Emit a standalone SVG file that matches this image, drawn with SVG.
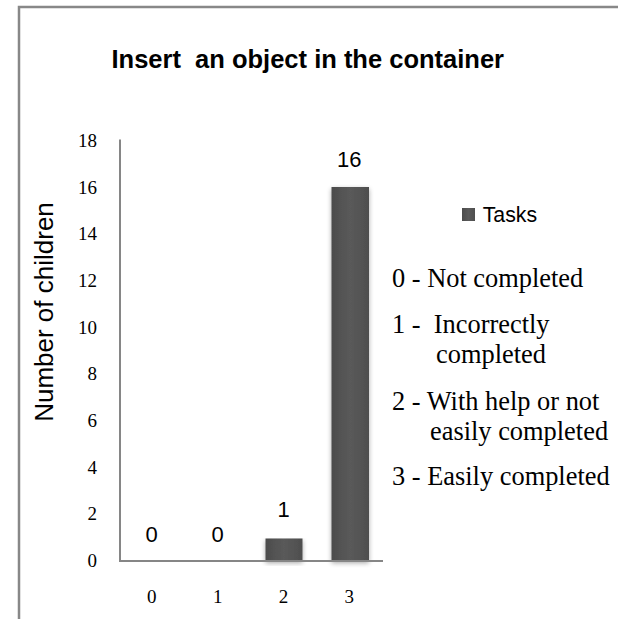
<svg xmlns="http://www.w3.org/2000/svg" width="618" height="619" viewBox="0 0 618 619">
  <style>
    .frame { fill: none; stroke: #888888; stroke-width: 2.5; }
    .axis { stroke: #868686; stroke-width: 2; fill: none; }
    .title { font-family: "Liberation Sans", Arial, sans-serif; font-weight: bold; font-size: 25.5px; fill: #000; white-space: pre; }
    .sans { font-family: "Liberation Sans", Arial, sans-serif; fill: #000; }
    .serif { font-family: "Liberation Serif", "Times New Roman", serif; fill: #000; }
    .tick { font-size: 19px; text-anchor: end; }
    .cat { font-size: 19px; text-anchor: middle; }
    .val { font-size: 22px; text-anchor: middle; }
    .leg { font-size: 26.4px; white-space: pre; }
    .bar { fill: url(#barFill); filter: url(#barShadow); }
  </style>
  <defs>
    <linearGradient id="barFill" x1="0" y1="0" x2="1" y2="0">
      <stop offset="0" stop-color="#4c4c4c"/>
      <stop offset="0.5" stop-color="#5a5a5a"/>
      <stop offset="1" stop-color="#4e4e4e"/>
    </linearGradient>
    <filter id="barShadow" x="-30%" y="-10%" width="160%" height="130%">
      <feGaussianBlur in="SourceAlpha" stdDeviation="2.5"/>
      <feOffset dx="0" dy="2" result="blur"/>
      <feComponentTransfer><feFuncA type="linear" slope="0.35"/></feComponentTransfer>
      <feMerge><feMergeNode/><feMergeNode in="SourceGraphic"/></feMerge>
    </filter>
  </defs>

  <rect width="618" height="619" fill="#ffffff"/>

  <!-- chart frame (runs off the right and bottom edges) -->
  <rect class="frame" x="19" y="7" width="620" height="630"/>

  <text class="title" x="111.5" y="67.5" xml:space="preserve">Insert  an object in the container</text>

  <!-- value axis -->
  <g id="y-axis">
    <text class="sans" font-size="26" text-anchor="middle" transform="translate(53,312) rotate(-90)">Number of children</text>
    <g class="serif tick">
      <text x="97" y="147">18</text>
      <text x="97" y="193.7">16</text>
      <text x="97" y="240.3">14</text>
      <text x="97" y="287">12</text>
      <text x="97" y="333.7">10</text>
      <text x="97" y="380.3">8</text>
      <text x="97" y="427">6</text>
      <text x="97" y="473.7">4</text>
      <text x="97" y="520.3">2</text>
      <text x="97" y="567">0</text>
    </g>
  </g>

  <!-- category axis labels -->
  <g id="x-axis" class="serif cat">
    <text x="151.7" y="603">0</text>
    <text x="217.7" y="603">1</text>
    <text x="283.5" y="603">2</text>
    <text x="349.3" y="603">3</text>
  </g>

  <!-- bars -->
  <g id="bar-2"><rect class="bar" x="265.5" y="538.5" width="37" height="22.5"/></g>
  <g id="bar-3"><rect class="bar" x="331.5" y="187" width="37.5" height="374"/></g>

  <g id="axes">
    <polyline class="axis" points="120,139.5 120,561 383,561"/>
  </g>

  <!-- data labels -->
  <g id="values" class="sans val">
    <text x="151.7" y="542.3">0</text>
    <text x="217.7" y="542.3">0</text>
    <text x="283.5" y="517.3">1</text>
    <text x="349.3" y="166.7">16</text>
  </g>

  <!-- legend -->
  <g id="legend">
    <rect x="462" y="208" width="13" height="13" fill="url(#barFill)"/>
    <text class="sans" font-size="21.3" x="482.7" y="222.3">Tasks</text>
    <g class="serif leg">
      <text x="392" y="286.7">0 - Not completed</text>
      <text x="392" y="333.3" xml:space="preserve">1 -  Incorrectly</text>
      <text x="436" y="363.3">completed</text>
      <text x="392" y="410">2 - With help or not</text>
      <text x="430" y="440">easily completed</text>
      <text x="392" y="485">3 - Easily completed</text>
    </g>
  </g>
</svg>
